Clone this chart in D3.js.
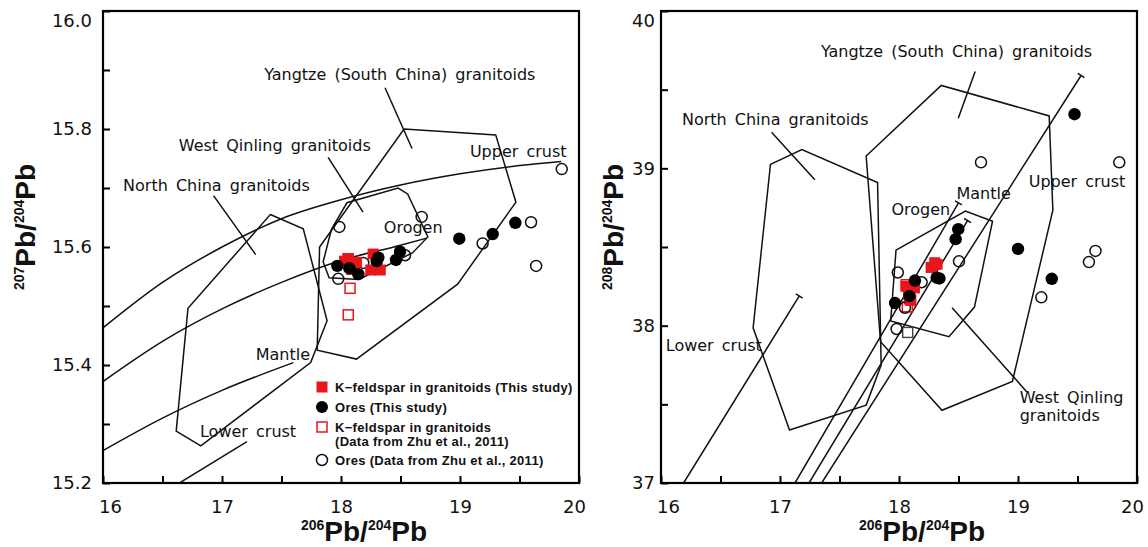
<!DOCTYPE html>
<html><head><meta charset="utf-8">
<script src="https://cdn.jsdelivr.net/npm/d3@7"></script>
<style>body{margin:0;background:#fff}svg{display:block}</style>
</head><body><svg id="c" width="1148" height="547"></svg>
<script>
// ================= DATA =================
const xMajor = [16, 17, 18, 19, 20];
const xMinor = [16.5, 17.5, 18.5, 19.5];
const xLabels = ["16", "17", "18", "19", "20"];

const leftYTicks = [15.2, 15.3, 15.4, 15.5, 15.6, 15.7, 15.8, 15.9, 16.0];
const leftYLabeled = [15.2, 15.4, 15.6, 15.8, 16.0];
const rightYTicks = [37, 37.5, 38, 38.5, 39, 39.5, 40];
const rightYLabeled = [37, 38, 39, 40];

// ---- left panel (207Pb/204Pb) ----
const upperCrustL = [[16,15.463],[16.5,15.54],[17,15.60],[17.5,15.648],[18,15.68],[18.5,15.705],[19,15.724],[19.5,15.738],[19.85,15.745]];
const orogenL = [[16,15.372],[16.5,15.44],[17,15.495],[17.5,15.54],[18,15.577],[18.5,15.603],[18.72,15.615]];
const mantleL = [[16,15.255],[16.5,15.31],[17,15.357],[17.6,15.404]];
const lowerCrustL = [[16.65,15.201],[17.21,15.27]];

const northChinaL = [[17.406,15.655],[17.683,15.631],[17.883,15.475],[17.745,15.404],[16.822,15.263],[16.615,15.288],[16.714,15.496]];
const yangtzeL = [[17.82,15.60],[18.53,15.80],[19.3,15.79],[19.47,15.676],[18.98,15.537],[18.13,15.41],[17.8,15.425]];
const westQinlingL = [[17.85,15.575],[17.92,15.63],[18.05,15.675],[18.48,15.70],[18.56,15.69],[18.73,15.617],[18.6,15.59],[18.15,15.545],[17.9,15.548]];

const kfsThisL = [[18.03,15.576],[18.09,15.562],[18.13,15.574],[18.06,15.58],[18.27,15.588],[18.33,15.561],[18.25,15.561],[18.3,15.572]];
const oresThisL = [[17.969,15.568],[18.07,15.564],[18.146,15.554],[18.314,15.582],[18.30,15.576],[18.496,15.592],[18.462,15.578],[18.994,15.614],[19.275,15.622],[19.465,15.641]];
const kfsZhuL = [[18.06,15.58],[18.076,15.53],[18.061,15.485],[18.1,15.57]];
const oresZhuL = [[17.986,15.634],[18.678,15.651],[17.977,15.546],[18.187,15.573],[18.538,15.586],[19.19,15.606],[19.597,15.642],[19.64,15.568],[19.855,15.732]];

// ---- right panel (208Pb/204Pb) ----
const lowerCrustR = [[16.19,37.0],[17.162,38.189]];
const orogenR = [[17.126,37.0],[18.50,38.78]];
const mantleR = [[17.244,37.0],[18.576,38.668]];
const upperCrustR = [[17.35,37.0],[19.53,39.59]];

const northChinaR = [[16.92,39.025],[17.184,39.12],[17.82,38.91],[17.85,37.75],[17.724,37.495],[17.08,37.337],[16.774,37.986]];
const yangtzeR = [[17.724,39.078],[18.355,39.527],[19.262,39.333],[19.293,38.734],[18.953,37.645],[18.361,37.462],[17.845,37.898]];
const westQinlingR = [[17.975,38.48],[18.558,38.728],[18.786,38.664],[18.634,38.118],[18.42,37.93],[17.93,38.03]];

const kfsThisR = [[18.27,38.37],[18.30,38.40],[18.32,38.39],[18.06,38.25],[18.08,38.20],[18.10,38.16],[18.13,38.24]];
const oresThisR = [[18.498,38.613],[18.476,38.55],[18.316,38.305],[18.34,38.30],[18.134,38.287],[18.088,38.188],[17.967,38.144],[19.0,38.488],[19.284,38.298],[19.475,39.344]];
const kfsZhuR = [[18.07,38.12],[18.06,38.26],[18.09,38.17]];
const kfsZhuGreyR = [[18.073,37.957]];
const oresZhuR = [[18.689,39.038],[19.851,39.038],[19.651,38.475],[19.596,38.404],[19.196,38.18],[18.504,38.409],[17.99,38.338],[18.19,38.276],[18.05,38.114],[17.98,37.979]];

// labels: [text, x (left edge), y (centre)]
const labelsL = [
  ["Yangtze (South China) granitoids", 17.354, 15.893],
  ["West Qinling granitoids", 16.637, 15.772],
  ["North China granitoids", 16.169, 15.705],
  ["Upper crust", 19.083, 15.763],
  ["Orogen", 18.36, 15.634],
  ["Mantle", 17.283, 15.419],
  ["Lower crust", 16.815, 15.287]
];
const leadersL = [
  [[18.37,15.870],[18.597,15.767]],
  [[17.892,15.752],[18.185,15.659]],
  [[16.929,15.687],[17.283,15.587]]
];
const labelsR = [
  ["Yangtze (South China) granitoids", 17.344, 39.747],
  ["North China granitoids", 16.176, 39.311],
  ["Orogen", 17.936, 38.739],
  ["Mantle", 18.483, 38.844],
  ["Upper crust", 19.09, 38.915],
  ["Lower crust", 16.04, 37.876],
  ["West Qinling", 19.014, 37.546],
  ["granitoids", 19.014, 37.429]
];
const leadersR = [
  [[18.64,39.615],[18.498,39.318]],
  [[16.929,39.23],[17.293,38.928]],
  [[18.446,38.114],[19.074,37.579]]
];

const legendItems = [
  {type:"redFilled", lines:["K\u2212feldspar in granitoids (This study)"]},
  {type:"blackDot", lines:["Ores (This study)"]},
  {type:"redOpen", lines:["K\u2212feldspar in granitoids", "(Data from Zhu et al., 2011)"]},
  {type:"openCircle", lines:["Ores (Data from Zhu et al., 2011)"]}
];

// ================= DRAW =================
const RED = "#e8161b";
const svg = d3.select("#c");
const TOP = 11, BOTTOM = 483;

function panel(cfg) {
  const g = svg.append("g");
  const x = d3.scaleLinear().domain([16, 20]).range([cfg.x0, cfg.x1]);
  const y = d3.scaleLinear().domain(cfg.yDomain).range([BOTTOM, TOP]);

  // x axis (ticks inward)
  const xa = g.append("g").attr("transform", `translate(0,${BOTTOM})`)
    .call(d3.axisBottom(x).tickValues(xMajor.concat(xMinor).sort((a,b)=>a-b))
      .tickSize(-7).tickSizeOuter(0).tickPadding(17)
      .tickFormat(d => xMajor.includes(d) ? xLabels[xMajor.indexOf(d)] : ""));
  xa.select(".domain").remove();
  xa.selectAll("line").attr("stroke", "#000").attr("stroke-width", 2);
  xa.selectAll("text").attr("font-family", "DejaVu Sans").attr("font-size", 18).attr("fill", "#111")
    .attr("dx", d => d === 16 ? 7 : (d === 20 ? -5 : 0));

  const ya = g.append("g").attr("transform", `translate(${cfg.x0},0)`)
    .call(d3.axisLeft(y).tickValues(cfg.yTicks).tickSize(-7).tickSizeOuter(0).tickPadding(cfg.yPad)
      .tickFormat(d => cfg.yLabeled.some(v => Math.abs(v - d) < 1e-9) ? cfg.yFmt(d) : ""));
  ya.select(".domain").remove();
  ya.selectAll("line").attr("stroke", "#000").attr("stroke-width", 2);
  ya.selectAll("text").attr("font-family", "DejaVu Sans").attr("font-size", 18).attr("fill", "#111")
    .attr("dy", d => Math.abs(d - cfg.yDomain[1]) < 1e-9 ? "0.85em" : "0.32em");

  // frame
  g.append("rect").attr("x", cfg.x0).attr("y", TOP).attr("width", cfg.x1 - cfg.x0).attr("height", BOTTOM - TOP)
    .attr("fill", "none").attr("stroke", "#000").attr("stroke-width", 2.2);

  const clip = "clip" + cfg.id;
  svg.append("clipPath").attr("id", clip).append("rect")
    .attr("x", cfg.x0).attr("y", TOP).attr("width", cfg.x1 - cfg.x0).attr("height", BOTTOM - TOP);
  const plot = g.append("g").attr("clip-path", `url(#${clip})`);

  const curveGen = d3.line().x(d => x(d[0])).y(d => y(d[1])).curve(d3.curveMonotoneX);
  const lineGen = d3.line().x(d => x(d[0])).y(d => y(d[1]));
  cfg.curves.forEach(c => plot.append("path").attr("d", curveGen(c)).attr("fill", "none").attr("stroke", "#111").attr("stroke-width", 1.5));
  cfg.lines.forEach(c => plot.append("path").attr("d", lineGen(c)).attr("fill", "none").attr("stroke", "#111").attr("stroke-width", 1.5));
  cfg.polys.forEach(p => plot.append("path").attr("d", lineGen(p) + "Z").attr("fill", "none").attr("stroke", "#111").attr("stroke-width", 1.5));
  cfg.leaders.forEach(l => plot.append("path").attr("d", lineGen(l)).attr("fill", "none").attr("stroke", "#111").attr("stroke-width", 1.5));

  // end bars on straight growth lines
  (cfg.endBars || []).forEach(l => {
    const a = l[l.length - 2], b = l[l.length - 1];
    const ax = x(a[0]), ay = y(a[1]), bx = x(b[0]), by = y(b[1]);
    const len = Math.hypot(bx - ax, by - ay), nx = -(by - ay) / len, ny = (bx - ax) / len;
    plot.append("line").attr("x1", bx - nx * 4).attr("y1", by - ny * 4).attr("x2", bx + nx * 4).attr("y2", by + ny * 4)
      .attr("stroke", "#111").attr("stroke-width", 1.5);
  });

  // labels
  cfg.labels.forEach(l => g.append("text").attr("x", x(l[1])).attr("y", y(l[2])).attr("dy", "0.36em")
    .attr("font-family", "DejaVu Sans").attr("font-size", 16).attr("fill", "#111").attr("word-spacing", 3).text(l[0]));

  // points
  const sq = 11;
  const pts = plot.append("g");
  (cfg.kfsZhuGrey || []).forEach(d => pts.append("rect").attr("x", x(d[0]) - 5).attr("y", y(d[1]) - 5).attr("width", 10).attr("height", 10)
    .attr("fill", "#fff").attr("stroke", "#444").attr("stroke-width", 1.4));
  cfg.kfsZhu.forEach(d => pts.append("rect").attr("x", x(d[0]) - 5).attr("y", y(d[1]) - 5).attr("width", 10).attr("height", 10)
    .attr("fill", "none").attr("stroke", RED).attr("stroke-width", 1.5));
  cfg.oresZhu.forEach(d => pts.append("circle").attr("cx", x(d[0])).attr("cy", y(d[1])).attr("r", 5.5)
    .attr("fill", "none").attr("stroke", "#111").attr("stroke-width", 1.5));
  cfg.kfsThis.forEach(d => pts.append("rect").attr("x", x(d[0]) - sq/2).attr("y", y(d[1]) - sq/2).attr("width", sq).attr("height", sq)
    .attr("fill", RED));
  cfg.oresThis.forEach(d => pts.append("circle").attr("cx", x(d[0])).attr("cy", y(d[1])).attr("r", 6.2).attr("fill", "#000"));

  // axis titles
  const xt = g.append("text").attr("x", (cfg.x0 + cfg.x1) / 2 + 23).attr("y", 541).attr("text-anchor", "middle")
    .attr("font-family", "Liberation Sans, Arial").attr("font-weight", "bold").attr("fill", "#111");
  xt.append("tspan").attr("font-size", 14).attr("dy", -11).text("206");
  xt.append("tspan").attr("font-size", 28).attr("dy", 11).text("Pb/");
  xt.append("tspan").attr("font-size", 14).attr("dy", -11).text("204");
  xt.append("tspan").attr("font-size", 28).attr("dy", 11).text("Pb");

  const yt = g.append("text").attr("transform", `translate(${cfg.titleX},${(TOP + BOTTOM) / 2 - 20}) rotate(-90)`)
    .attr("text-anchor", "middle").attr("font-family", "Liberation Sans, Arial").attr("font-weight", "bold").attr("fill", "#111");
  yt.append("tspan").attr("font-size", 14).attr("dy", -11).text(cfg.yIso);
  yt.append("tspan").attr("font-size", 28).attr("dy", 11).text("Pb/");
  yt.append("tspan").attr("font-size", 14).attr("dy", -11).text("204");
  yt.append("tspan").attr("font-size", 28).attr("dy", 11).text("Pb");

  return {g, x, y};
}

panel({
  id: "L", x0: 103, x1: 579, yDomain: [15.2, 16.0], yTicks: leftYTicks, yLabeled: leftYLabeled,
  yFmt: d3.format(".1f"), yPad: 11, titleX: 35, yIso: "207",
  curves: [upperCrustL, orogenL, mantleL], lines: [lowerCrustL],
  polys: [northChinaL, yangtzeL, westQinlingL], leaders: leadersL, labels: labelsL,
  kfsThis: kfsThisL, oresThis: oresThisL, kfsZhu: kfsZhuL, oresZhu: oresZhuL
});

panel({
  id: "R", x0: 661, x1: 1137, yDomain: [37, 40], yTicks: rightYTicks, yLabeled: rightYLabeled,
  yFmt: d3.format("d"), yPad: 6, titleX: 623, yIso: "208",
  curves: [], lines: [lowerCrustR, orogenR, mantleR, upperCrustR], endBars: [lowerCrustR, orogenR, mantleR, upperCrustR],
  polys: [northChinaR, yangtzeR, westQinlingR], leaders: leadersR, labels: labelsR,
  kfsThis: kfsThisR, oresThis: oresThisR, kfsZhu: kfsZhuR, kfsZhuGrey: kfsZhuGreyR, oresZhu: oresZhuR
});

// legend (left panel)
const lg = svg.append("g").attr("font-family", "Liberation Sans, Arial").attr("font-weight", "bold").attr("font-size", 13).attr("fill", "#111");
const legendY = [387, 407, 427, 460];
legendItems.forEach((it, i) => {
  const cy = legendY[i], cx = 322;
  if (it.type === "redFilled") lg.append("rect").attr("x", cx - 5.5).attr("y", cy - 5.5).attr("width", 11).attr("height", 11).attr("fill", RED);
  if (it.type === "blackDot") lg.append("circle").attr("cx", cx).attr("cy", cy).attr("r", 6).attr("fill", "#000");
  if (it.type === "redOpen") lg.append("rect").attr("x", cx - 5).attr("y", cy - 5).attr("width", 10).attr("height", 10).attr("fill", "none").attr("stroke", RED).attr("stroke-width", 1.5);
  if (it.type === "openCircle") lg.append("circle").attr("cx", cx).attr("cy", cy).attr("r", 5.5).attr("fill", "none").attr("stroke", "#111").attr("stroke-width", 1.5);
  it.lines.forEach((t, j) => lg.append("text").attr("x", 335).attr("y", cy + j * 14).attr("dy", "0.36em").attr("letter-spacing", 0.3).text(t));
});
</script></body></html>
